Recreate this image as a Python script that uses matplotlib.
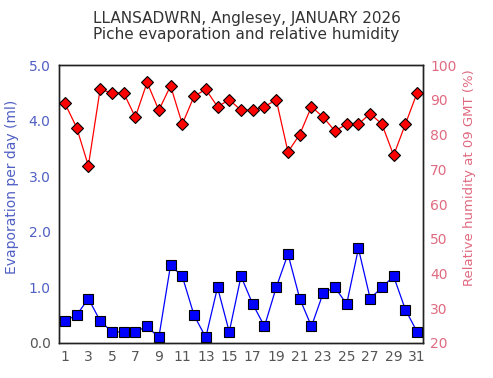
import numpy as np
import matplotlib.pyplot as plt

days = np.arange(1, 32)
evap = [0.4, 0.5, 0.8, 0.4, 0.2, 0.2, 0.2, 0.3, 0.1, 1.4,
        1.2, 0.5, 0.1, 1.0, 0.2, 1.2, 0.7, 0.3, 1.0, 1.6,
        0.8, 0.3, 0.9, 1.0, 0.7, 1.7, 0.8, 1.0, 1.2, 0.6, 0.2]
rh = [89, 82, 71, 93, 92, 92, 85, 95, 87, 94,
      83, 91, 93, 88, 90, 87, 87, 88, 90, 75,
      80, 88, 85, 81, 83, 83, 86, 83, 74, 83, 92]

blue_txt = '#4f5fc4'
red_txt = '#e06a80'
grey_txt = '#555555'

fig = plt.figure(figsize=(4.93, 3.78), dpi=100)
ax1 = fig.add_axes([0.1197, 0.0926, 0.7383, 0.7354])
ax2 = ax1.twinx()

# humidity on the right axis
ax2.plot(days, rh, color='red', lw=0.9, marker='D', markersize=6.5,
         markerfacecolor='red', markeredgecolor='black', markeredgewidth=0.8, zorder=3)
ax2.set_ylim(20, 100)
ax2.set_yticks(np.arange(20, 101, 10))
ax2.tick_params(axis='y', length=0, labelcolor=red_txt, labelsize=10, pad=5)
ax2.set_ylabel('Relative humidity at 09 GMT (%)', color=red_txt, fontsize=9.5)
ax2.yaxis.set_label_coords(1.11, 0.594)

# evaporation on the left axis
ax1.plot(days, evap, color='blue', lw=0.9, marker='s', markersize=6.5,
         markerfacecolor='blue', markeredgecolor='black', markeredgewidth=0.8, zorder=3)
ax1.set_xlim(0.5, 31.5)
ax1.set_ylim(0, 5)
ax1.set_yticks(np.arange(0, 5.01, 1.0))
ax1.set_yticklabels([f'{v:.1f}' for v in np.arange(0, 5.01, 1.0)])
ax1.set_xticks(np.arange(1, 32, 2))
ax1.tick_params(axis='y', length=0, labelcolor=blue_txt, labelsize=10, pad=6)
ax1.tick_params(axis='x', length=0, labelcolor=grey_txt, labelsize=10, pad=5)
ax1.get_yticklabels()[0].set_color(grey_txt)
ax1.set_ylabel('Evaporation per day (ml)', color=blue_txt, fontsize=10)
ax1.yaxis.set_label_coords(-0.11, 0.561)

for ax in (ax1, ax2):
    for s in ax.spines.values():
        s.set_color('#222222')
        s.set_linewidth(1.0)

fig.text(0.5, 0.972, 'LLANSADWRN, Anglesey, JANUARY 2026\nPiche evaporation and relative humidity',
         ha='center', va='top', fontsize=11, color='#333333', linespacing=1.15)

fig.savefig('out.png', dpi=100)
